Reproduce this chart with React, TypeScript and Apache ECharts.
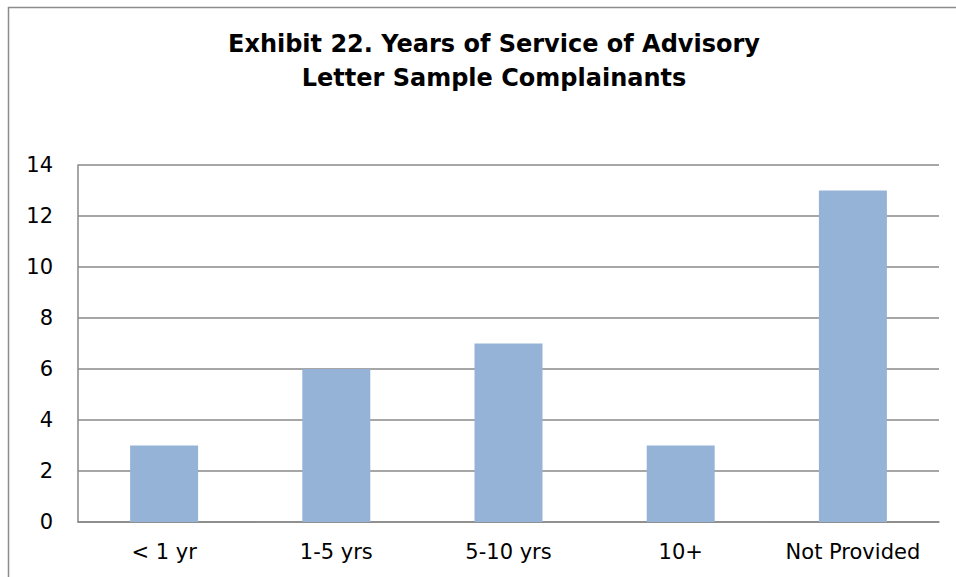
import React, { useEffect, useRef } from "react";
import * as echarts from "echarts";

const categories = ["< 1 yr", "1-5 yrs", "5-10 yrs", "10+", "Not Provided"];
const values = [3, 6, 7, 3, 13];
const titleLines = ["Exhibit 22. Years of Service of Advisory", "Letter Sample Complainants"];

export default function App() {
  const ref = useRef<HTMLDivElement>(null);
  useEffect(() => {
    document.body.style.margin = "0";
    const chart = echarts.init(ref.current!, null, { renderer: "svg" });
    chart.setOption({
      animation: false,
      backgroundColor: "#ffffff",
      title: {
        text: titleLines.join("\n"),
        left: 489,
        textAlign: "center",
        top: 22,
        textStyle: {
          fontFamily: "DejaVu Sans",
          fontWeight: "bold",
          fontSize: 24,
          lineHeight: 34,
          color: "#000000",
        },
      },
      graphic: [
        {
          type: "rect",
          shape: { x: 8.5, y: 7.5, width: 1000, height: 1000 },
          style: { fill: "none", stroke: "#8c8c8c", lineWidth: 1.5 },
          silent: true,
        },
      ],
      grid: { left: 78, right: 17, top: 165, bottom: 55, containLabel: false },
      xAxis: {
        type: "category",
        data: categories,
        axisLine: { show: true, lineStyle: { color: "#888888", width: 1.5 } },
        axisTick: { show: false },
        axisLabel: {
          interval: 0,
          hideOverlap: false,
          fontFamily: "DejaVu Sans",
          fontSize: 21,
          color: "#000000",
          margin: 19,
        },
      },
      yAxis: {
        type: "value",
        min: 0,
        max: 14,
        interval: 2,
        axisLine: { show: true, lineStyle: { color: "#888888", width: 1.5 } },
        axisTick: { show: false },
        splitLine: { show: true, lineStyle: { color: "#888888", width: 1.5 } },
        axisLabel: {
          fontFamily: "DejaVu Sans",
          fontSize: 21,
          color: "#000000",
          margin: 25,
        },
      },
      series: [
        {
          type: "bar",
          data: values,
          barWidth: 68,
          itemStyle: { color: "#95B3D7" },
        },
      ],
    });
    return () => chart.dispose();
  }, []);
  return <div ref={ref} style={{ width: 956, height: 577 }} />;
}
